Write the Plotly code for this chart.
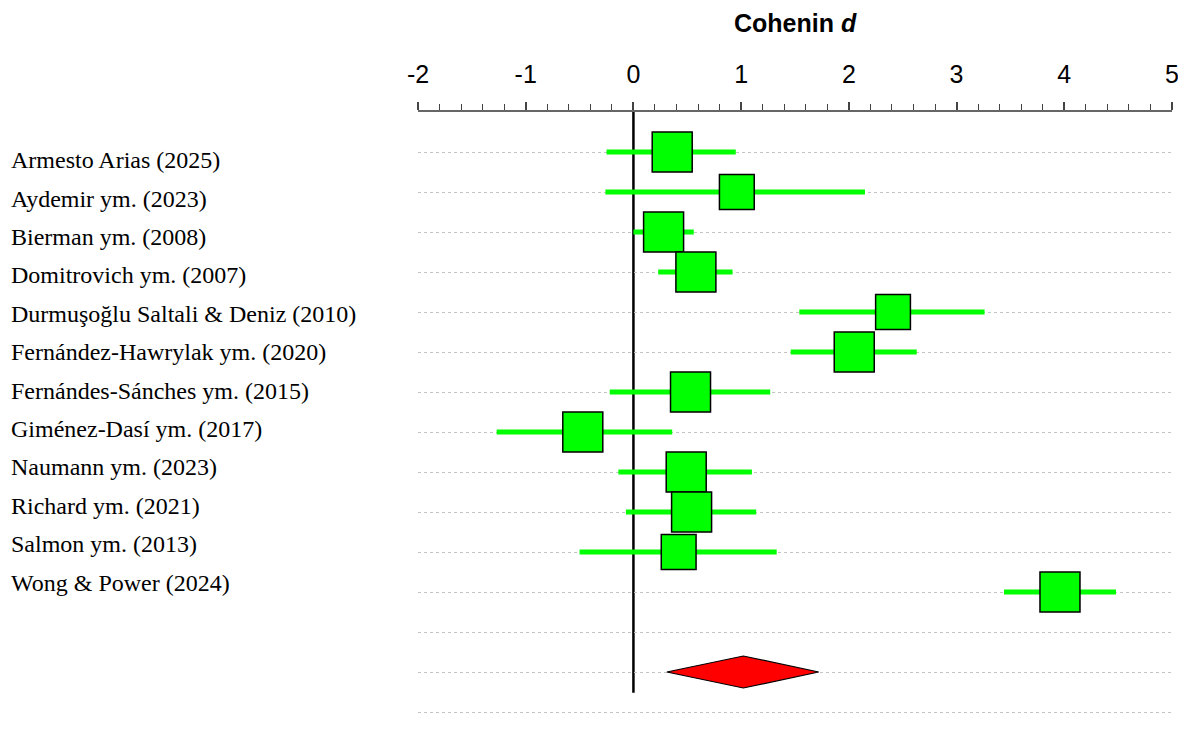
import plotly.graph_objects as go

studies = [
    "Armesto Arias (2025)",
    "Aydemir ym. (2023)",
    "Bierman ym. (2008)",
    "Domitrovich ym. (2007)",
    "Durmuşoğlu Saltali & Deniz (2010)",
    "Fernández-Hawrylak ym. (2020)",
    "Fernándes-Sánches ym. (2015)",
    "Giménez-Dasí ym. (2017)",
    "Naumann ym. (2023)",
    "Richard ym. (2021)",
    "Salmon ym. (2013)",
    "Wong & Power (2024)",
]
d_est = [0.36, 0.96, 0.28, 0.58, 2.41, 2.05, 0.53, -0.47, 0.49, 0.54, 0.42, 3.96]
ci_low = [-0.25, -0.26, 0.00, 0.23, 1.54, 1.46, -0.22, -1.27, -0.14, -0.07, -0.50, 3.44]
ci_high = [0.95, 2.15, 0.56, 0.92, 3.26, 2.63, 1.27, 0.36, 1.10, 1.14, 1.33, 4.48]
rel_weight = [1.0, 0.87, 1.0, 1.0, 0.87, 1.0, 1.0, 1.0, 1.0, 1.0, 0.87, 1.0]

pooled_est = 1.02
pooled_low = 0.31
pooled_high = 1.72

x_ticks = [-2, -1, 0, 1, 2, 3, 4, 5]
x_tick_text = ["-2", "-1", "0", "1", "2", "3", "4", "5"]

n = len(studies)
rows = list(range(n))
pooled_row = n + 1
last_row = n + 2

W, H = 1178, 730
ML, MR, MT, MB = 410, 14, 104, 6
plot_w = W - ML - MR
plot_h = H - MT - MB

fig = go.Figure()

fig.add_trace(go.Scatter(
    x=d_est, y=rows, mode="markers",
    marker=dict(symbol="square", size=[40 * w for w in rel_weight], opacity=1,
                color="#00ff00", line=dict(color="black", width=1.5)),
    error_x=dict(type="data", symmetric=False,
                 array=[h - e for h, e in zip(ci_high, d_est)],
                 arrayminus=[e - l for e, l in zip(d_est, ci_low)],
                 color="#00ff00", thickness=5, width=0),
    showlegend=False, hoverinfo="skip", cliponaxis=False,
))

fig.add_trace(go.Scatter(
    x=[pooled_low, pooled_est, pooled_high, pooled_est, pooled_low],
    y=[pooled_row, pooled_row - 0.4, pooled_row, pooled_row + 0.4, pooled_row],
    mode="lines", fill="toself", fillcolor="#ff0000",
    line=dict(color="black", width=1.2),
    showlegend=False, hoverinfo="skip",
))

fig.add_shape(type="line", xref="x", yref="y", x0=0, x1=0, y0=-1, y1=pooled_row + 0.52,
              line=dict(color="black", width=2.5), layer="below")

annotations = []
for i, s in enumerate(studies):
    annotations.append(dict(
        x=(1 - ML) / plot_w, xref="paper", y=i, yref="y", text=s, showarrow=False,
        xanchor="left", yanchor="middle", yshift=-(8.2 - 1.6 * i),
        font=dict(family="Liberation Serif, Times New Roman, serif", size=24, color="black"),
    ))
annotations.append(dict(
    x=0.5, xref="paper", y=1 + MT / plot_h, yref="paper",
    text="<b>Cohenin <i>d</i></b>", showarrow=False, xanchor="center", yanchor="top",
    borderpad=0,
    font=dict(family="Liberation Sans, Arial, sans-serif", size=25, color="black"),
))

fig.update_layout(
    width=W, height=H,
    margin=dict(l=ML, r=MR, t=MT, b=MB),
    paper_bgcolor="white", plot_bgcolor="white",
    annotations=annotations,
    xaxis=dict(
        range=[-2, 5], side="top", tickvals=x_ticks, ticktext=x_tick_text,
        ticks="outside", ticklen=8, tickwidth=1.5, tickcolor="#444",
        ticklabelstandoff=9,
        showline=True, linecolor="#666", linewidth=1.5,
        showgrid=False, zeroline=False,
        tickfont=dict(family="Liberation Sans, Arial, sans-serif", size=25, color="black"),
        minor=dict(dtick=0.2, ticks="outside", ticklen=6, tickwidth=1, tickcolor="#444", showgrid=False),
    ),
    yaxis=dict(
        range=[last_row + 0.5, -1], tickvals=list(range(last_row + 1)),
        showticklabels=False, ticks="", showline=False, zeroline=False,
        showgrid=True, gridcolor="#c4c4c4", griddash="dot", gridwidth=1,
    ),
)

fig.write_html("out.html")
